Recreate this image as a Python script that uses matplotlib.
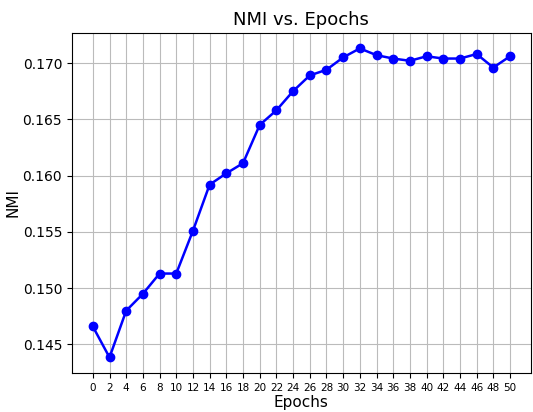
import matplotlib
matplotlib.use("Agg")
import matplotlib.pyplot as plt

epochs = list(range(0, 51, 2))
nmi = [0.1466, 0.14385, 0.1480, 0.1495, 0.1513, 0.1513, 0.1551, 0.1592, 0.1602,
       0.1611, 0.1645, 0.1658, 0.1675, 0.1689, 0.1694, 0.1705, 0.1713, 0.1707,
       0.1704, 0.1702, 0.1706, 0.1704, 0.1704, 0.1708, 0.1696, 0.1706]

fig = plt.figure(figsize=(5.33, 4.12), dpi=100)
ax = fig.add_axes([0.135, 0.095, 0.861, 0.825])

ax.plot(epochs, nmi, marker='o', color='blue', markersize=6, linewidth=1.8)
ax.set_title("NMI vs. Epochs", fontsize=13)
ax.set_xlabel("Epochs", fontsize=11, labelpad=2)
ax.set_ylabel("NMI", fontsize=11, labelpad=1.5)
ax.set_xticks(epochs)
ax.tick_params(axis='x', labelsize=7.5)
ax.tick_params(axis='y', labelsize=10)
ax.grid(True, color='#bbbbbb')

fig.savefig("out.png", dpi=100)
